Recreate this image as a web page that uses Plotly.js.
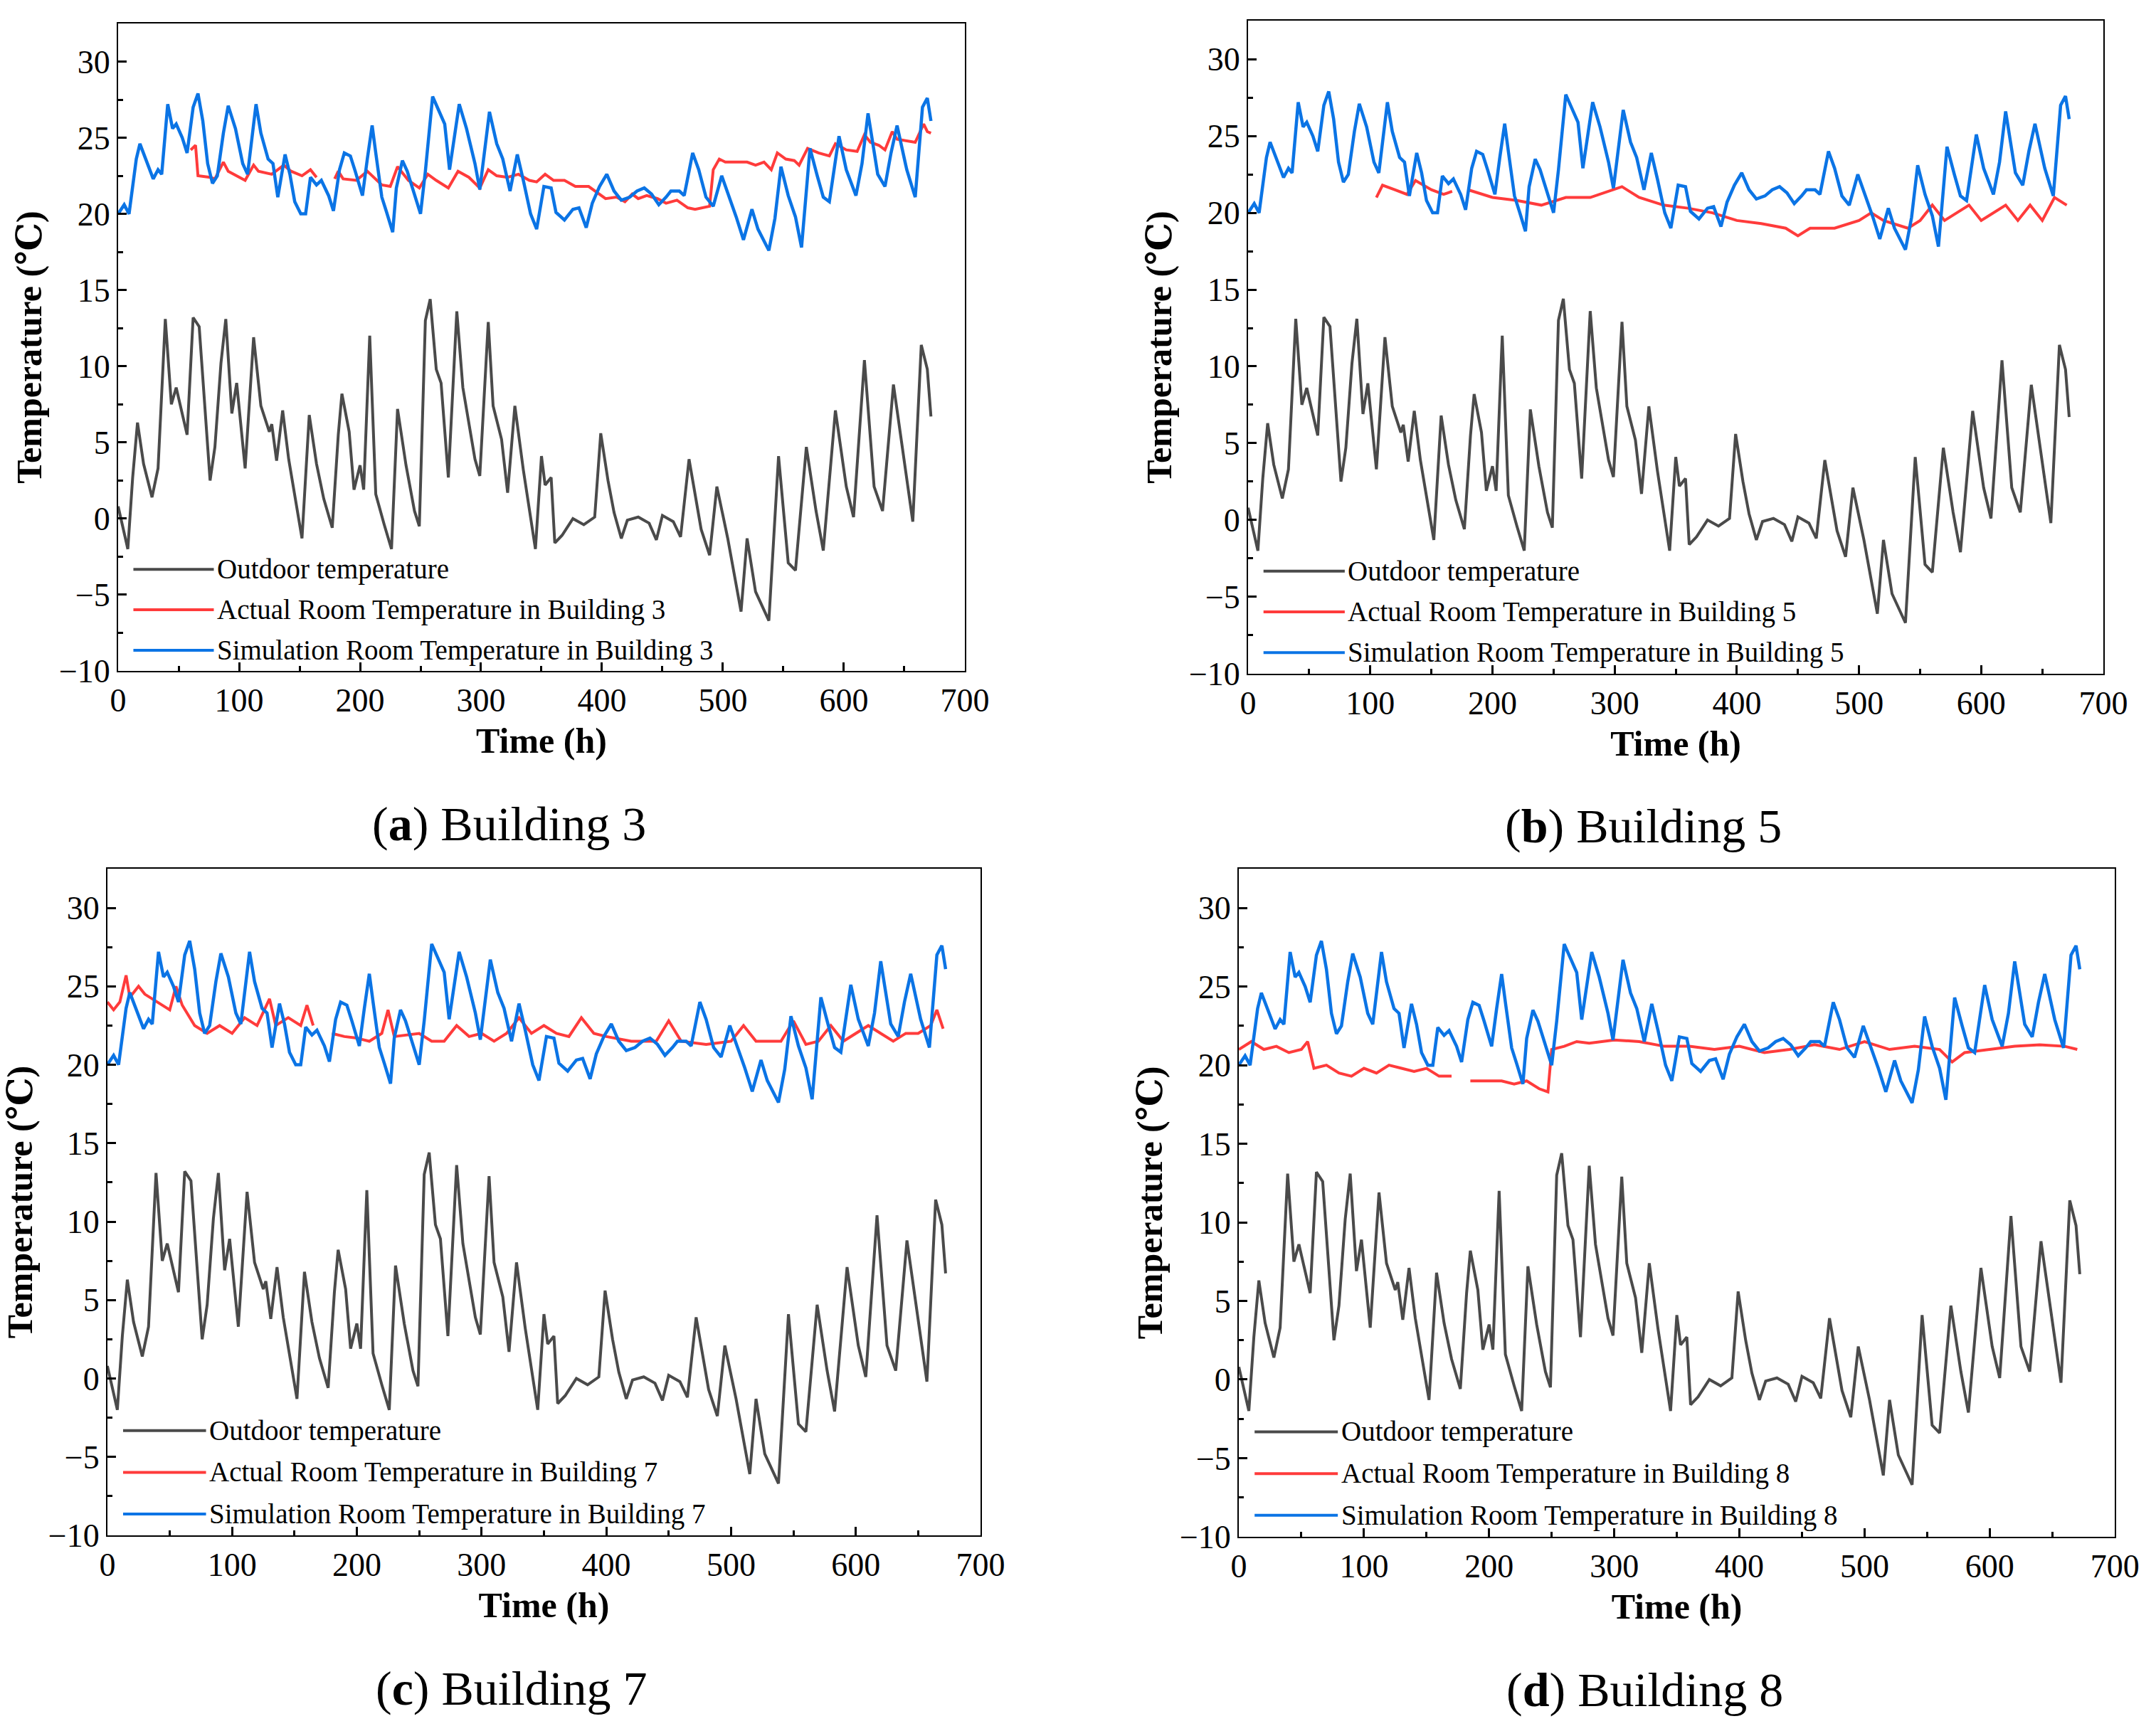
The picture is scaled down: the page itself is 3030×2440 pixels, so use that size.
<!DOCTYPE html>
<html>
<head>
<meta charset="utf-8">
<script src="https://cdn.plot.ly/plotly-3.0.1.min.js"></script>
<style>body{margin:0;background:#fff}</style>
</head>
<body>
<div id="chart" style="width:3030px;height:2440px"></div>
<script>
// outdoor temperature, shared by all four panels
const outHours = [0,8,12,16,21,28,33,39,44,48,57,62,67,76,80,85,89,94,98,105,112,118,125,127,131,136,141,152,158,164,170,177,182,185,191,195,200,203,208,213,220,226,231,238,245,249,254,258,263,267,273,280,285,295,299,306,310,317,322,328,335,345,350,353,358,361,367,376,385,394,399,405,410,416,421,430,439,445,450,459,465,472,482,489,495,504,515,520,527,538,546,554,560,569,577,583,593,602,608,617,625,632,641,647,652,657,664,669,672];
const outTemp = [0.8,-2,2.7,6.3,3.6,1.4,3.3,13.1,7.5,8.6,5.5,13.2,12.6,2.5,4.7,10.2,13.1,6.9,8.9,3.3,11.9,7.4,5.7,6.2,3.8,7.1,3.9,-1.3,6.8,3.6,1.3,-0.6,5.5,8.2,5.7,1.9,3.5,1.9,12.0,1.6,-0.4,-2,7.2,3.5,0.5,-0.5,13,14.4,9.8,8.9,2.7,13.6,8.6,3.9,2.8,12.9,7.4,5.2,1.7,7.4,3.2,-2,4.1,2.2,2.7,-1.6,-1.1,0,-0.4,0.1,5.6,2.5,0.4,-1.3,-0.1,0.1,-0.3,-1.4,0.2,-0.2,-1.2,3.9,-0.7,-2.4,2.1,-1.3,-6.1,-1.3,-4.8,-6.7,4.1,-2.9,-3.4,4.7,0.5,-2.1,7.1,2.1,0.1,10.4,2.1,0.5,8.8,5.5,2.5,-0.2,11.4,9.8,6.7];

// simulated room temperature (same model output in all panels)
const simHours = [0,5,9,15,18,25,29,33,36,41,45,48,53,57,62,66,70,74,78,82,87,91,97,103,107,114,118,124,128,132,138,142,146,151,155,159,164,168,174,178,183,187,192,196,202,206,210,213,218,222,227,230,235,239,245,250,254,260,265,270,274,277,282,288,295,299,304,307,313,318,324,330,335,341,346,352,358,362,369,376,381,387,392,398,404,410,416,423,429,435,441,447,453,457,464,468,475,480,486,492,499,504,511,517,524,529,538,543,548,554,560,565,572,578,583,588,596,602,610,615,620,628,634,639,644,652,659,665,669,672];
const simTemp = [20,20.6,20,23.6,24.6,23.1,22.3,22.9,22.6,27.2,25.6,25.9,25,24,27,27.9,26.1,23.3,22,22.5,25.3,27.1,25.6,23.3,22.6,27.2,25.3,23.6,23.3,21.1,23.9,22.6,20.8,20,20,22.4,21.9,22.2,21.2,20.2,22.9,24,23.8,22.8,21.2,23.6,25.8,24,21.1,20.1,18.8,21.7,23.5,22.8,21.2,20,22.8,27.7,26.8,25.9,22.9,24.5,27.2,25.6,23.3,21.6,24.8,26.7,24.6,23.6,21.5,23.9,22.2,20,19,21.8,21.7,20.1,19.6,20.3,20.4,19.1,20.7,21.8,22.6,21.5,20.9,21.1,21.5,21.7,21.3,20.6,21.1,21.5,21.5,21.2,24,22.9,21.1,20.5,22.5,21.4,19.8,18.3,20.3,19,17.6,19.7,23.1,21.2,19.8,17.8,24.3,22.5,21.1,20.8,25.1,22.9,21.2,23.3,26.6,22.6,21.8,24,25.8,22.9,21.1,27,27.6,26.1];

// measured room temperature per building (null = missing data)
const act3Hours = [60,64,66,76,80,87,91,105,112,116,127,137,143,152,159,164,170,179,182,186,197,206,218,225,231,240,249,256,263,273,281,290,299,306,313,322,331,340,346,353,360,369,378,389,396,403,412,419,425,430,437,446,453,462,471,477,489,492,497,502,511,520,527,534,540,545,552,559,563,570,579,588,593,602,611,617,622,629,634,640,644,651,659,666,669,672];
const act3Temp = [24.2,24.5,22.5,22.4,22.3,23.4,22.8,22.2,23.2,22.8,22.6,23.2,22.8,22.5,22.9,22.4,null,22.3,22.8,22.3,22.2,22.8,21.9,21.8,23.1,22.2,21.7,22.6,22.2,21.7,22.8,22.4,21.7,22.9,22.5,22.4,22.6,22.2,22.1,22.6,22.2,22.2,21.8,21.8,21.4,21,21.1,20.8,21.3,21,21.2,21,20.7,20.9,20.4,20.3,20.5,22.9,23.6,23.4,23.4,23.4,23.2,23.4,22.9,24,23.6,23.5,23.2,24.3,24,23.8,24.6,24.2,24.1,25.2,24.7,24.5,24.2,25.4,24.9,24.8,24.7,25.9,25.4,25.3];
const act5Hours = [105,110,120,130,137,150,160,167,172,180,200,220,240,260,280,306,320,340,360,380,400,420,440,450,460,480,500,510,520,540,550,560,570,580,590,600,610,620,630,640,650,660,670];
const act5Temp = [21,21.8,21.5,21.2,22.1,21.5,21.2,21.4,null,21.5,21,20.8,20.5,21,21,21.7,21,20.5,20.3,20,19.5,19.3,19,18.5,19,19,19.5,20,19.5,19,19.5,20.5,19.5,20,20.5,19.5,20,20.5,19.5,20.5,19.5,21,20.5];
const act7Hours = [0,5,10,15,18,25,30,40,50,55,60,70,80,90,100,110,120,130,135,145,155,160,165,172,180,190,200,210,220,225,230,250,260,270,280,290,300,310,320,330,340,350,360,370,380,390,400,420,440,450,460,480,500,510,520,530,540,550,560,570,580,590,600,610,620,630,640,650,660,665,670];
const act7Temp = [24,23.5,24,25.7,24.3,25,24.5,24,23.5,25,23.8,22.5,22,22.5,22,23,22.5,24.2,22.5,23,22.5,23.8,22.5,null,22,21.8,21.7,21.5,22,23.5,21.8,22,21.5,21.5,22.5,21.8,22,21.5,22,23,22,22.5,22,21.8,23,22,21.8,21.5,21.5,22.8,21.5,21.3,21.5,22.5,21.5,21.5,21.5,22.8,21.3,21.5,22.5,21.5,22,22.5,22,21.5,22,22,22.5,23.5,22.3];
const act8Hours = [0,10,20,30,40,50,55,60,70,80,90,100,110,120,130,140,150,160,170,177,185,200,210,220,230,240,247,250,260,270,280,300,320,340,360,380,400,420,440,460,480,500,520,540,560,570,580,600,620,640,660,670];
const act8Temp = [21,21.5,21,21.2,20.8,21,21.5,19.8,20,19.5,19.3,19.8,19.5,20,19.8,19.6,19.8,19.3,19.3,null,19,19,19,18.8,19,18.5,18.3,21,21.2,21.5,21.4,21.6,21.5,21.2,21.2,21,21.2,20.8,21,21.3,21,21.5,21,21.2,21,20.2,20.8,21,21.2,21.3,21.2,21];

const buildings = ['3', '5', '7', '8'];
const letters = ['a', 'b', 'c', 'd'];
const actHours = [act3Hours, act5Hours, act7Hours, act8Hours];
const actTemp = [act3Temp, act5Temp, act7Temp, act8Temp];

const boxes = [
  {x: [0.0548, 0.4475], y: [0.6135, 0.9865]},
  {x: [0.5789, 0.9756], y: [0.612, 0.988]},
  {x: [0.0498, 0.4548], y: [0.1156, 0.4996]},
  {x: [0.5746, 0.9809], y: [0.1148, 0.4996]}
];

const FONT = 'Liberation Serif, DejaVu Serif, serif';
const colors = {out: '#4a4a4a', act: '#ff3b3b', sim: '#0b74e5'};

const data = [];
const layout = {
  width: 3030, height: 2440,
  margin: {l: 0, r: 0, t: 0, b: 0},
  paper_bgcolor: '#fff', plot_bgcolor: '#fff',
  showlegend: false,
  font: {family: FONT, color: '#000'},
  annotations: [], shapes: []
};

boxes.forEach((b, i) => {
  const n = i === 0 ? '' : String(i + 1);
  const xa = 'x' + n, ya = 'y' + n;
  data.push({x: outHours, y: outTemp, xaxis: xa, yaxis: ya, mode: 'lines',
    line: {color: colors.out, width: 4}});
  data.push({x: actHours[i], y: actTemp[i], xaxis: xa, yaxis: ya, mode: 'lines',
    connectgaps: false, line: {color: colors.act, width: 4}});
  data.push({x: simHours, y: simTemp, xaxis: xa, yaxis: ya, mode: 'lines',
    line: {color: colors.sim, width: 4.5}});

  const common = {showline: true, mirror: true, linecolor: '#000', linewidth: 2,
    showgrid: false, zeroline: false, ticks: 'inside', ticklen: 12, tickwidth: 3,
    tickcolor: '#000', tickfont: {family: FONT, size: 46}};
  layout['xaxis' + n] = Object.assign({}, common, {
    domain: b.x, anchor: ya, range: [0, 700], dtick: 100,
    minor: {dtick: 50, ticks: 'inside', ticklen: 7, tickcolor: '#000'},
    title: {text: '<b>Time (h)</b>', font: {family: FONT, size: 50}, standoff: 14}
  });
  layout['yaxis' + n] = Object.assign({}, common, {
    domain: b.y, anchor: xa, range: [-10, 32.5], dtick: 5,
    minor: {dtick: 2.5, ticks: 'inside', ticklen: 7, tickcolor: '#000'},
    title: {text: '<b>Temperature (℃)</b>', font: {family: FONT, size: 50}, standoff: 8}
  });

  const labels = ['Outdoor temperature',
    'Actual Room Temperature in Building ' + buildings[i],
    'Simulation Room Temperature in Building ' + buildings[i]];
  const lineCols = [colors.out, colors.act, colors.sim];
  const w = b.x[1] - b.x[0], h = b.y[1] - b.y[0];
  labels.forEach((t, k) => {
    const yy = b.y[0] + h * (0.157 - k * 0.0625);
    const x0 = b.x[0] + w * 0.018;
    layout.shapes.push({type: 'line', xref: 'paper', yref: 'paper',
      x0: x0, x1: x0 + w * 0.095, y0: yy, y1: yy, line: {color: lineCols[k], width: 4}});
    layout.annotations.push({text: t, xref: 'paper', yref: 'paper', x: x0 + w * 0.097, y: yy,
      xanchor: 'left', yanchor: 'middle', showarrow: false,
      font: {family: FONT, size: 39, color: '#000'}});
  });

  layout.annotations.push({text: '(<b>' + letters[i] + '</b>) Building ' + buildings[i],
    xref: 'paper', yref: 'paper', x: (b.x[0] + b.x[1]) / 2 - 0.015, y: b.y[0] - 0.088,
    xanchor: 'center', yanchor: 'middle', showarrow: false,
    font: {family: FONT, size: 68, color: '#000'}});
});

Plotly.newPlot('chart', data, layout, {staticPlot: true});
</script>
</body>
</html>
